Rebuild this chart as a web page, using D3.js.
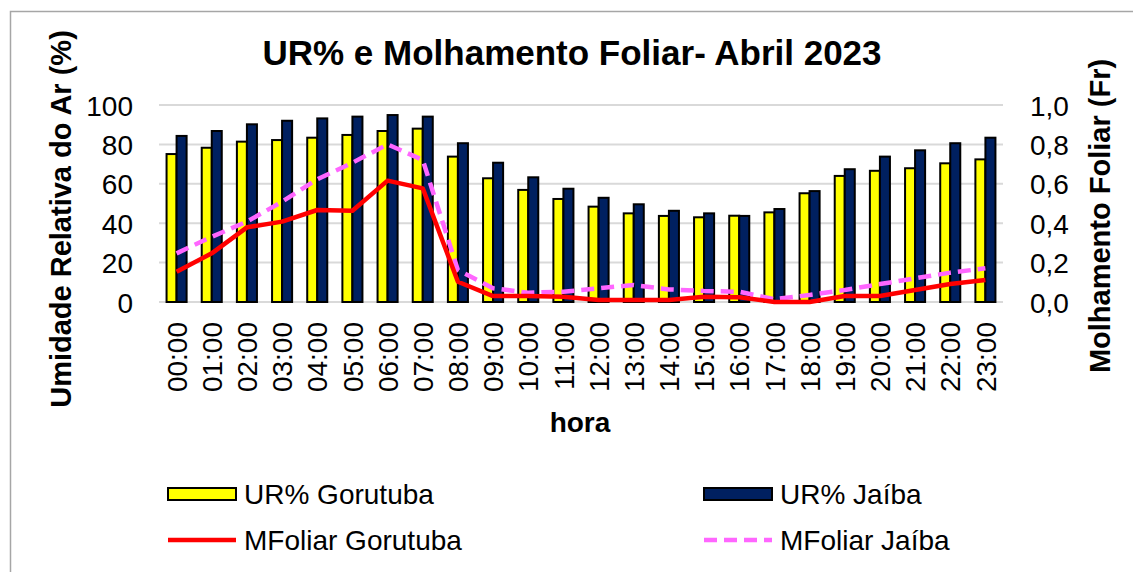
<!DOCTYPE html>
<meta charset="utf-8">
<head>
  <style>
    body { margin:0; background:#fff; }
    text { font-family: "Liberation Sans", Arial, sans-serif; fill:#000; }
  </style>
  <script src="https://d3js.org/d3.v7.min.js"></script>
</head>
<body>
<svg width="1133" height="572"></svg>
<script>
  var horas = ["00:00","01:00","02:00","03:00","04:00","05:00","06:00","07:00","08:00","09:00","10:00","11:00",
               "12:00","13:00","14:00","15:00","16:00","17:00","18:00","19:00","20:00","21:00","22:00","23:00"]
  var urGorutuba = [75.1,78.3,81.4,82.2,83.4,84.8,86.8,88.0,73.8,62.8,56.9,52.3,
                    48.4,45.0,43.7,43.0,43.8,45.5,55.2,64.0,66.6,67.9,70.4,72.4]
  var urJaiba = [84.3,86.8,90.2,92.0,93.2,94.1,94.9,94.1,80.6,70.7,63.3,57.5,
                 52.9,49.6,46.3,45.0,43.7,47.2,56.3,67.4,73.8,77.0,80.6,83.4]
  var mfGorutuba = [0.154,0.247,0.379,0.408,0.467,0.463,0.616,0.577,0.103,0.03,0.03,0.027,
                    0.01,0.01,0.01,0.027,0.024,0.0,0.0,0.03,0.03,0.061,0.091,0.112]
  var mfJaiba = [0.247,0.331,0.408,0.509,0.623,0.707,0.80,0.721,0.162,0.07,0.047,0.052,
                 0.07,0.086,0.064,0.056,0.052,0.014,0.036,0.061,0.091,0.12,0.149,0.171]
  var leftTicks = [0,20,40,60,80,100]
  var rightTicks = [0,0.2,0.4,0.6,0.8,1.0]

  var svg = d3.select("svg")
  var plot = { left: 159, right: 1003, top: 105, bottom: 302 }

  // outer frame
  svg.append("rect").attr("x", 10.5).attr("y", 11.5).attr("width", 1200).attr("height", 700)
    .attr("fill", "none").attr("stroke", "#a6a6a6").attr("stroke-width", 1.5)

  var x = d3.scaleBand().domain(horas).range([plot.left, plot.right]).paddingInner(0.43).paddingOuter(0.215)
  var x1 = d3.scaleBand().domain(["g","j"]).range([0, x.bandwidth()])
  var yL = d3.scaleLinear().domain([0,100]).range([plot.bottom, plot.top])
  var yR = d3.scaleLinear().domain([0,1]).range([plot.bottom, plot.top])

  // gridlines
  svg.append("g").selectAll("line").data(leftTicks).enter().append("line")
    .attr("x1", plot.left).attr("x2", plot.right)
    .attr("y1", function (d) { return yL(d) }).attr("y2", function (d) { return yL(d) })
    .attr("stroke", "#d9d9d9").attr("stroke-width", 2)

  // left axis
  var axL = svg.append("g").attr("transform", "translate(" + (plot.left - 26) + ",0)")
    .call(d3.axisLeft(yL).tickValues(leftTicks).tickSize(0).tickPadding(0))
  axL.select(".domain").remove()
  axL.selectAll("text").attr("font-size", 28).attr("dy", "0.36em")

  // right axis
  var axR = svg.append("g").attr("transform", "translate(" + (plot.right + 27) + ",0)")
    .call(d3.axisRight(yR).tickValues(rightTicks).tickSize(0).tickPadding(0)
      .tickFormat(function (d) { return d3.format(".1f")(d).replace(".", ",") }))
  axR.select(".domain").remove()
  axR.selectAll("text").attr("font-size", 28).attr("dy", "0.36em")

  // bottom axis labels (rotated)
  var axB = svg.append("g").attr("transform", "translate(0," + (plot.bottom + 20) + ")")
    .call(d3.axisBottom(x).tickSize(0).tickPadding(0))
  axB.select(".domain").remove()
  axB.selectAll("text").attr("font-size", 28).attr("transform", "rotate(-90)")
    .attr("text-anchor", "end").attr("x", 0).attr("y", 0).attr("dy", "0.36em")

  // bars
  var rows = horas.map(function (h, i) { return { h: h, g: urGorutuba[i], j: urJaiba[i] } })
  var groups = svg.append("g").selectAll("g").data(rows).enter().append("g")
    .attr("transform", function (d) { return "translate(" + x(d.h) + ",0)" })
  groups.append("rect").attr("x", x1("g")).attr("width", x1.bandwidth())
    .attr("y", function (d) { return yL(d.g) }).attr("height", function (d) { return yL(0) - yL(d.g) })
    .attr("fill", "#ffff00").attr("stroke", "#000").attr("stroke-width", 2)
  groups.append("rect").attr("x", x1("j")).attr("width", x1.bandwidth())
    .attr("y", function (d) { return yL(d.j) }).attr("height", function (d) { return yL(0) - yL(d.j) })
    .attr("fill", "#002060").attr("stroke", "#000").attr("stroke-width", 2)

  // lines
  var line = d3.line()
    .x(function (d, i) { return x(horas[i]) + x.bandwidth() / 2 })
    .y(function (d) { return yR(d) })
  svg.append("path").datum(mfJaiba).attr("d", line).attr("fill", "none")
    .attr("stroke", "#ff66ff").attr("stroke-width", 4.5).attr("stroke-dasharray", "13,7")
  svg.append("path").datum(mfGorutuba).attr("d", line).attr("fill", "none")
    .attr("stroke", "#ff0000").attr("stroke-width", 4.5).attr("stroke-linejoin", "round")

  // titles
  svg.append("text").attr("x", 572).attr("y", 65).attr("text-anchor", "middle")
    .attr("font-size", 35).attr("font-weight", "bold").text("UR% e Molhamento Foliar- Abril 2023")
  svg.append("text").attr("transform", "translate(71,219) rotate(-90)").attr("text-anchor", "middle")
    .attr("font-size", 29).attr("font-weight", "bold").text("Umidade Relativa do Ar (%)")
  svg.append("text").attr("transform", "translate(1110,216) rotate(-90)").attr("text-anchor", "middle")
    .attr("font-size", 29).attr("font-weight", "bold").text("Molhamento Foliar (Fr)")
  svg.append("text").attr("x", 580).attr("y", 432).attr("text-anchor", "middle")
    .attr("font-size", 28).attr("font-weight", "bold").text("hora")

  // legend
  var legend = [
    { label: "UR% Gorutuba", type: "bar", color: "#ffff00", lx: 168, ly: 494 },
    { label: "UR% Jaíba", type: "bar", color: "#002060", lx: 704, ly: 494 },
    { label: "MFoliar Gorutuba", type: "line", color: "#ff0000", lx: 168, ly: 540 },
    { label: "MFoliar Jaíba", type: "dash", color: "#ff66ff", lx: 704, ly: 540 }
  ]
  var lg = svg.append("g").selectAll("g").data(legend).enter().append("g")
    .attr("transform", function (d) { return "translate(" + d.lx + "," + d.ly + ")" })
  lg.filter(function (d) { return d.type === "bar" }).append("rect")
    .attr("x", 0).attr("y", -6).attr("width", 68).attr("height", 12)
    .attr("fill", function (d) { return d.color }).attr("stroke", "#000").attr("stroke-width", 2)
  lg.filter(function (d) { return d.type !== "bar" }).append("line")
    .attr("x1", 0).attr("x2", 68).attr("y1", 0).attr("y2", 0)
    .attr("stroke", function (d) { return d.color }).attr("stroke-width", 4.5)
    .attr("stroke-dasharray", function (d) { return d.type === "dash" ? "13,7" : null })
  lg.append("text").attr("x", 76).attr("y", 0).attr("dy", "0.36em").attr("font-size", 28)
    .text(function (d) { return d.label })
</script>
</body>
